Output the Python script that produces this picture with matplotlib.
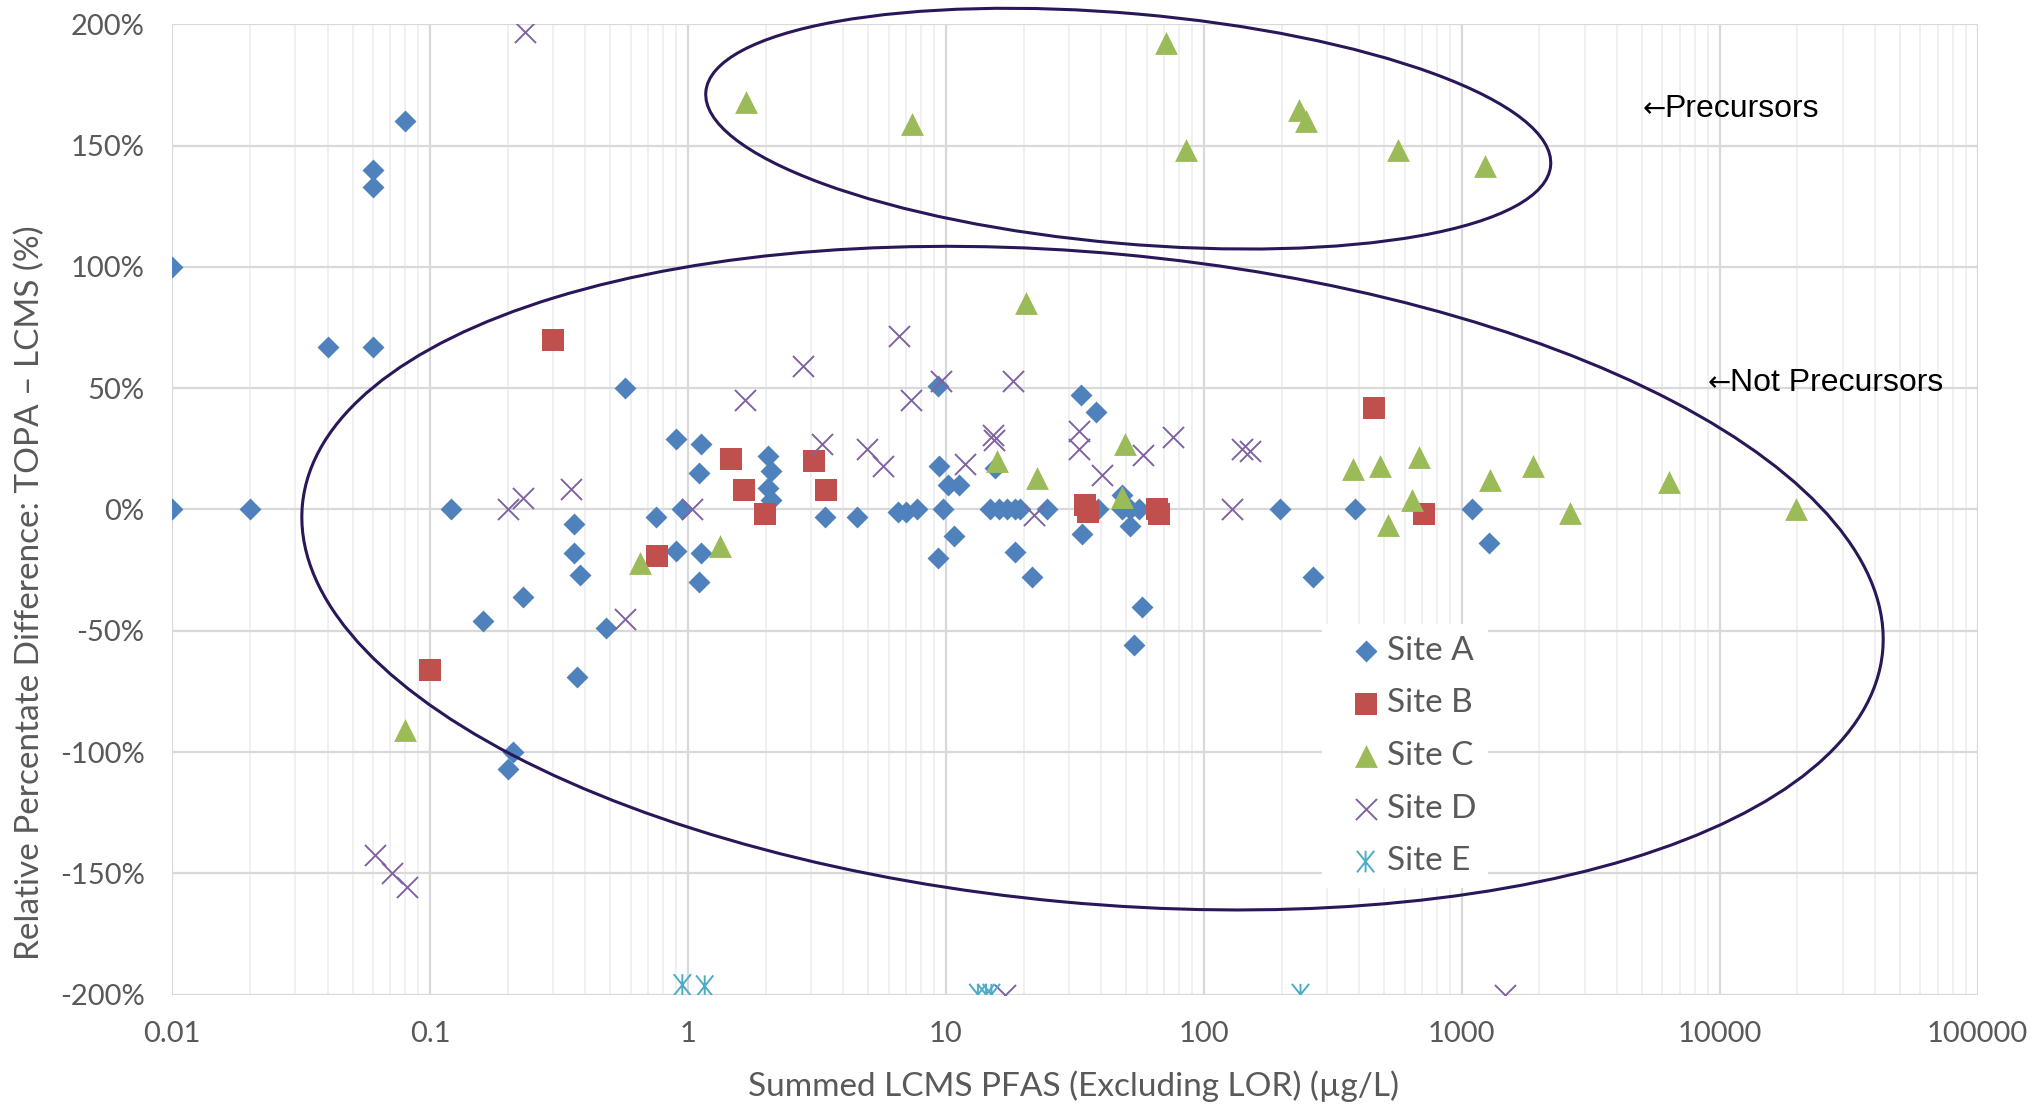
import numpy as np
import matplotlib
matplotlib.use("Agg")
import matplotlib.pyplot as plt
import matplotlib.transforms as mtransforms
from matplotlib.patches import Ellipse
from matplotlib.path import Path
from matplotlib.ticker import FixedLocator, FuncFormatter, LogLocator, NullFormatter

# summed LCMS PFAS (ug/L) and relative percentage difference (%) per site
site_a_x = [0.01, 0.01, 0.02, 0.04, 0.06, 0.06, 0.06, 0.08, 0.12, 0.16, 0.23, 0.21,
            0.2, 0.36, 0.36, 0.38, 0.37, 0.48, 0.57, 0.75, 0.9, 0.9, 0.95, 1.12,
            1.1, 1.12, 1.1, 2.05, 2.1, 2.05, 2.1, 3.4, 4.5, 6.5, 7.0, 7.7, 9.3,
            9.4, 9.7, 9.3, 10.2, 11.2, 10.7, 15.5, 14.8, 16.1, 17.3, 18.6, 19.4,
            24.6, 18.6, 21.6, 33.4, 38.2, 33.6, 39, 48, 51.5, 56, 48, 51.5, 57.5,
            53.5, 198, 264, 387, 1095, 1270]
site_a_y = [100, 0, 0, 67, 67, 140, 133, 160, 0, -46, -36, -100,
            -107, -6, -18, -27, -69, -49, 50, -3, 29, -17, 0, 27,
            15, -18, -30, 22, 16, 9, 4, -3, -3, -1, -1, 0, 51,
            18, 0, -20, 10, 10, -11, 17, 0, 0, 0, 0, 0,
            0, -17.5, -28, 47, 40, -10, 0, 0, 0, 0, 6, -7, -40,
            -56, 0, -28, 0, 0, -14]

site_b_x = [0.30, 0.10, 0.76, 1.47, 1.65, 1.98, 3.07, 3.44, 34.5, 35.5, 66, 67, 457, 711]
site_b_y = [70, -66, -19, 21, 8, -2, 20, 8, 2, -1, 0, -2, 42, -2]

site_c_x = [1.67, 7.4, 71.6, 85.4, 233, 250, 566, 1227, 20.4, 15.7, 22.6, 49.6, 48,
            0.65, 1.33, 0.08, 378, 483, 685, 641, 517, 1291, 1890, 2640, 6370, 19700]
site_c_y = [168, 159, 192.5, 148, 164.5, 160, 148, 141.6, 85, 20, 13, 27, 5,
            -22, -15, -91, 16.5, 18, 21.5, 4, -6.4, 12, 18, -1.3, 11.5, 0]

site_d_x = [0.233, 0.20, 0.23, 0.35, 0.061, 0.071, 0.081, 0.57, 1.04, 1.66, 2.79,
            3.3, 4.96, 5.7, 6.56, 7.3, 9.6, 11.9, 15.2, 15.4, 18.2, 21.9, 32.7,
            32.9, 40.1, 58.3, 75.7, 129, 140, 151, 1476, 17.0]
site_d_y = [197, 0, 4.6, 8.3, -142.5, -150, -155.6, -45, 0, 45, 59,
            27, 25, 18, 71.6, 45, 52.8, 18.6, 30.6, 28.6, 53, -2.4, 32.4,
            25.1, 14.2, 22.4, 29.7, 0, 24.8, 24.2, -200, -200]

site_e_x = [0.95, 1.16, 13.3, 14.3, 15.0, 237]
site_e_y = [-196, -196.5, -200, -200, -200, -200]

x_ticks = [0.01, 0.1, 1, 10, 100, 1000, 10000, 100000]
x_tick_labels = ["0.01", "0.1", "1", "10", "100", "1000", "10000", "100000"]
y_ticks = [-200, -150, -100, -50, 0, 50, 100, 150, 200]

grey = "#595959"
ui_font = ["Lato", "DejaVu Sans"]
note_font = ["Liberation Sans", "DejaVu Sans"]

# asterisk marker (x plus vertical bar)
star = Path([(-0.4, -0.5), (0.4, 0.5), (-0.4, 0.5), (0.4, -0.5), (0, -0.5), (0, 0.5)],
            [Path.MOVETO, Path.LINETO, Path.MOVETO, Path.LINETO, Path.MOVETO, Path.LINETO])

fig = plt.figure(figsize=(20.32, 11.07), dpi=100)
ax = fig.add_axes([0.0848, 0.1015, 0.8884, 0.8765])
ax.set_xscale("log")
ax.set_xlim(0.01, 100000)
ax.set_ylim(-200, 200)

ax.scatter(site_a_x, site_a_y, marker="D", s=125, color="#4F81BD", lw=0, label="Site A", zorder=3)
ax.scatter(site_b_x, site_b_y, marker="s", s=260, color="#C0504D", lw=0, label="Site B", zorder=3)
ax.scatter(site_c_x, site_c_y, marker="^", s=270, color="#9BBB59", lw=0, label="Site C", zorder=3)
ax.scatter(site_d_x, site_d_y, marker="x", s=230, color="#8064A2", linewidths=1.4, label="Site D", zorder=3)
ax.scatter(site_e_x, site_e_y, marker=star, s=240, facecolor="none", edgecolor="#4BACC6",
           linewidths=1.4, label="Site E", zorder=3)

# grid and axes styling
ax.xaxis.set_major_locator(FixedLocator(x_ticks))
ax.xaxis.set_minor_locator(LogLocator(base=10, subs=np.arange(2, 10), numticks=20))
ax.xaxis.set_minor_formatter(NullFormatter())
ax.set_xticklabels(x_tick_labels)
ax.set_yticks(y_ticks)
ax.yaxis.set_major_formatter(FuncFormatter(lambda v, p: f"{v:.0f}%"))
ax.grid(which="major", color="#D9D9D9", lw=1.6, zorder=0)
ax.grid(which="minor", axis="x", color="#EDEDED", lw=1.2, zorder=0)
ax.set_axisbelow(True)
for s in ax.spines.values():
    s.set_visible(False)
ax.tick_params(which="both", length=0)
ax.tick_params(axis="y", pad=20, labelsize=21, labelcolor=grey)
ax.tick_params(axis="x", pad=19, labelsize=21, labelcolor=grey)
for lab in ax.get_xticklabels() + ax.get_yticklabels():
    lab.set_family(ui_font)

fig.text(0.5285, 0.019, "Summed LCMS PFAS (Excluding LOR) (µg/L)", ha="center", va="center",
         fontsize=24, color=grey, family=ui_font)
fig.text(0.0145, 0.465, "Relative Percentate Difference: TOPA – LCMS (%)", ha="center",
         va="center", rotation=90, fontsize=24, color=grey, family=ui_font)

# ellipses grouping the points (sizes in inches, centred on data points)
for cx, cy, w, h, ang in [(50.9, 157, 8.48, 2.30, -5.0), (37, -28.3, 15.87, 6.50, -5.3)]:
    tr = fig.dpi_scale_trans + mtransforms.ScaledTranslation(cx, cy, ax.transData)
    ax.add_patch(Ellipse((0, 0), w, h, angle=ang, transform=tr, fill=False,
                         edgecolor="#2A1759", lw=2.2, clip_on=False, zorder=5))

# notes: arrow glyph in DejaVu (full width), words in an Arial-like face
for nx, ny, word in [(0.8144, 0.913, "Precursors"), (0.8506, 0.6307, "Not Precursors")]:
    arrow = ax.text(nx, ny, "←", transform=ax.transAxes, ha="left", va="center",
                    fontsize=20, color="black", family="DejaVu Sans")
    ax.annotate(word, xy=(1, 0.5), xycoords=arrow, xytext=(-1, 0), textcoords="offset points",
                ha="left", va="center", fontsize=23, color="black", family=note_font)

leg = ax.legend(loc="upper left", bbox_to_anchor=(0.637, 0.382), borderaxespad=0,
                frameon=True, facecolor="white", edgecolor="none", framealpha=1,
                fancybox=False, scatterpoints=1, handletextpad=-0.3, handlelength=1.9,
                labelspacing=0.68, borderpad=0.35, prop={"family": ui_font, "size": 24})
for t in leg.get_texts():
    t.set_color(grey)
leg.set_zorder(6)

plt.savefig("out.png", dpi=100)
